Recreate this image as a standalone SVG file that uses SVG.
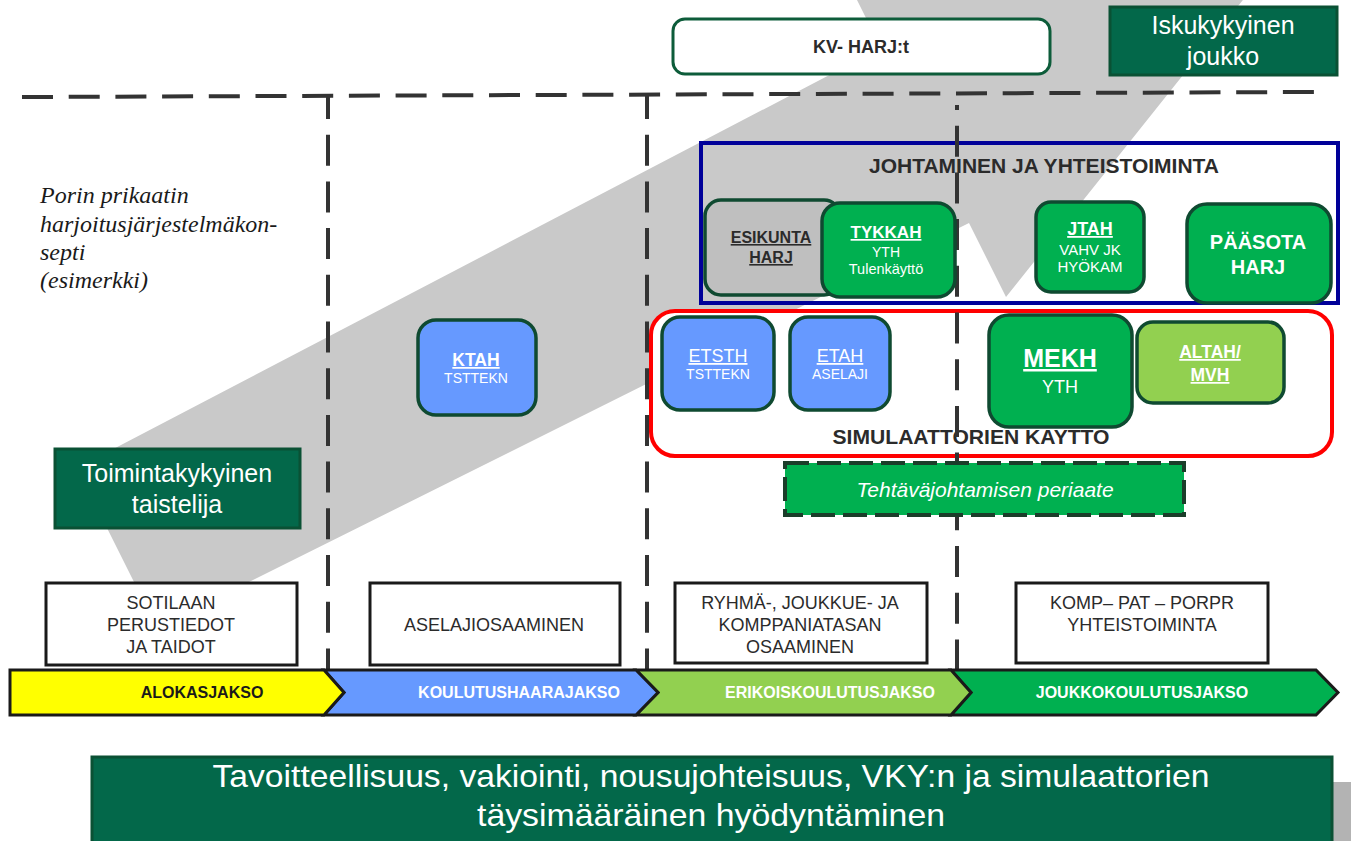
<svg xmlns="http://www.w3.org/2000/svg" width="1351" height="841" viewBox="0 0 1351 841">
<defs>
<style>
.t{font-family:"Liberation Sans",Arial,sans-serif}
.b{font-weight:bold}
.u{text-decoration:underline}
.w{fill:#ffffff}
.k{fill:#2b2b2b}
.nd{stroke:#0f4a31;stroke-width:3.5}
.grn{fill:#00b050}
.blu{fill:#6699ff}
.lgr{fill:#92d050}
.dk{fill:#03684a;stroke:#0a5134;stroke-width:3}
.wb{fill:#ffffff;stroke:#1a1a1a;stroke-width:3}
.dash{stroke:#333333;stroke-width:4;fill:none;stroke-dasharray:31 15.7}
.bar{stroke:#1a1a1a;stroke-width:3;stroke-linejoin:miter}
.ser{font-family:"Liberation Serif","Times New Roman",serif;font-style:italic;font-size:24px;fill:#1a1a1a}
</style>
</defs>
<rect x="0" y="0" width="1351" height="841" fill="#ffffff"/>
<g id="band">
<polygon points="77,468 881,48 844,-26 1274,-39 1006,297 969,223 157,628" fill="#c9c9c9"/>
<rect x="1332" y="782" width="19" height="59" fill="#b3b3b3"/>
</g>
<text class="ser" x="40" y="203">Porin prikaatin</text>
<text class="ser" x="40" y="232">harjoitusjärjestelmäkon-</text>
<text class="ser" x="40" y="260">septi</text>
<text class="ser" x="40" y="288">(esimerkki)</text>
<g id="kv">
<rect x="673" y="19" width="377" height="55" rx="12" fill="#ffffff" stroke="#0d5c3a" stroke-width="3"/>
<text class="t b k" x="861" y="53" font-size="18" text-anchor="middle">KV- HARJ:t</text>
</g>
<g id="iskukykyinen">
<rect class="dk" x="1110" y="7" width="227" height="68"/>
<text class="t w" x="1223" y="34" font-size="25" text-anchor="middle">Iskukykyinen</text>
<text class="t w" x="1223" y="65" font-size="25" text-anchor="middle">joukko</text>
</g>
<g id="johtaminen">
<rect x="701" y="143" width="637" height="160" fill="none" stroke="#000099" stroke-width="4"/>
<text class="t b k" x="1044" y="173" font-size="21" text-anchor="middle">JOHTAMINEN JA YHTEISTOIMINTA</text>
</g>
<g id="simulaattorit">
<rect x="651" y="311" width="681" height="145" rx="24" fill="#ffffff" stroke="#ff0000" stroke-width="4"/>
<text class="t b k" x="971" y="444" font-size="20" text-anchor="middle" textLength="277" lengthAdjust="spacingAndGlyphs">SIMULAATTORIEN KAYTTO</text>
</g>
<g id="connectors">
<line class="dash" x1="22" y1="97" x2="1315" y2="92"/>
<line class="dash" x1="328" y1="95" x2="328" y2="670" stroke-dashoffset="7"/>
<line class="dash" x1="647" y1="95" x2="647" y2="670" stroke-dashoffset="7"/>
<line class="dash" x1="957" y1="105" x2="957" y2="670" stroke-dashoffset="26"/>
</g>
<g id="toimintakykyinen">
<rect class="dk" x="55" y="449" width="245" height="79"/>
<text class="t w" x="177" y="482" font-size="25" text-anchor="middle">Toimintakykyinen</text>
<text class="t w" x="177" y="513" font-size="25" text-anchor="middle">taistelija</text>
</g>
<g id="esikunta">
<rect class="nd" x="705" y="200" width="135" height="95" rx="16" fill="#bfbfbf"/>
<text class="t b u k" x="771" y="243" font-size="16" text-anchor="middle">ESIKUNTA</text>
<text class="t b u k" x="771" y="263" font-size="16" text-anchor="middle">HARJ</text>
</g>
<g id="tykkah">
<rect class="nd grn" x="822" y="203" width="133" height="94" rx="18"/>
<text class="t b u w" x="886" y="238" font-size="17" text-anchor="middle">TYKKAH</text>
<text class="t w" x="886" y="257" font-size="14" text-anchor="middle">YTH</text>
<text class="t w" x="886" y="274" font-size="14.5" text-anchor="middle">Tulenkäyttö</text>
</g>
<g id="jtah">
<rect class="nd grn" x="1036" y="202" width="108" height="90" rx="15"/>
<text class="t b u w" x="1090" y="235" font-size="18" text-anchor="middle">JTAH</text>
<text class="t w" x="1090" y="255" font-size="15" text-anchor="middle">VAHV JK</text>
<text class="t w" x="1090" y="272" font-size="15" text-anchor="middle">HYÖKAM</text>
</g>
<g id="paasota">
<rect class="nd grn" x="1187" y="204" width="144" height="99" rx="20"/>
<text class="t b w" x="1258" y="249" font-size="20" text-anchor="middle">PÄÄSOTA</text>
<text class="t b w" x="1258" y="274" font-size="20" text-anchor="middle">HARJ</text>
</g>
<g id="ktah">
<rect class="nd blu" x="418" y="320" width="118" height="95" rx="18"/>
<text class="t b u w" x="476" y="366" font-size="17.5" text-anchor="middle">KTAH</text>
<text class="t w" x="476" y="383" font-size="14" text-anchor="middle">TSTTEKN</text>
</g>
<g id="etsth">
<rect class="nd blu" x="662" y="317" width="112" height="93" rx="18"/>
<text class="t u w" x="718" y="362" font-size="18" text-anchor="middle">ETSTH</text>
<text class="t w" x="718" y="379" font-size="14" text-anchor="middle">TSTTEKN</text>
</g>
<g id="etah">
<rect class="nd blu" x="790" y="317" width="100" height="93" rx="18"/>
<text class="t u w" x="840" y="362" font-size="18" text-anchor="middle">ETAH</text>
<text class="t w" x="840" y="379" font-size="14" text-anchor="middle">ASELAJI</text>
</g>
<g id="mekh">
<rect class="nd grn" x="989" y="315" width="143" height="112" rx="20"/>
<text class="t b u w" x="1060" y="367" font-size="25" text-anchor="middle">MEKH</text>
<text class="t w" x="1060" y="393" font-size="18" text-anchor="middle">YTH</text>
</g>
<g id="altah">
<rect class="nd lgr" x="1137" y="322" width="147" height="81" rx="16"/>
<text class="t b u w" x="1210" y="358" font-size="17.5" text-anchor="middle">ALTAH/</text>
<text class="t b u w" x="1210" y="381" font-size="17.5" text-anchor="middle">MVH</text>
</g>
<g id="tehtavajohtaminen">
<rect x="785" y="463" width="399" height="52" fill="#00b050" stroke="#1b3d2a" stroke-width="4" stroke-dasharray="24 8"/>
<text class="t w" x="985" y="497" font-size="21" font-style="italic" text-anchor="middle">Tehtäväjohtamisen periaate</text>
</g>
<g id="sotilaan">
<rect class="wb" x="46" y="583" width="251" height="82"/>
<text class="t k" x="171" y="609" font-size="18" text-anchor="middle">SOTILAAN</text>
<text class="t k" x="171" y="631" font-size="18" text-anchor="middle">PERUSTIEDOT</text>
<text class="t k" x="171" y="653" font-size="18" text-anchor="middle">JA TAIDOT</text>
</g>
<g id="aselaji">
<rect class="wb" x="370" y="583" width="250" height="82"/>
<text class="t k" x="494" y="631" font-size="18" text-anchor="middle">ASELAJIOSAAMINEN</text>
</g>
<g id="ryhma">
<rect class="wb" x="675" y="583" width="252" height="80"/>
<text class="t k" x="800" y="609" font-size="18" text-anchor="middle">RYHMÄ-, JOUKKUE- JA</text>
<text class="t k" x="800" y="631" font-size="18" text-anchor="middle">KOMPPANIATASAN</text>
<text class="t k" x="800" y="653" font-size="18" text-anchor="middle">OSAAMINEN</text>
</g>
<g id="komp">
<rect class="wb" x="1016" y="583" width="252" height="80"/>
<text class="t k" x="1142" y="609" font-size="18" text-anchor="middle">KOMP– PAT – PORPR</text>
<text class="t k" x="1142" y="631" font-size="18" text-anchor="middle">YHTEISTOIMINTA</text>
</g>
<g id="jaksot">
<polygon class="bar" points="951,670 1316,670 1338,692.5 1316,715 951,715 971,692.5" fill="#00b050"/>
<polygon class="bar" points="636,670 951,670 971,692.5 951,715 636,715 658,692.5" fill="#92d050"/>
<polygon class="bar" points="324,670 636,670 658,692.5 636,715 324,715 344,692.5" fill="#6699ff"/>
<polygon class="bar" points="10,670 324,670 344,692.5 324,715 10,715" fill="#ffff00"/>
<text class="t b" x="202" y="698" font-size="16" fill="#1a1a1a" text-anchor="middle">ALOKASJAKSO</text>
<text class="t b w" x="519" y="698" font-size="16" text-anchor="middle">KOULUTUSHAARAJAKSO</text>
<text class="t b w" x="830" y="698" font-size="16" text-anchor="middle">ERIKOISKOULUTUSJAKSO</text>
<text class="t b w" x="1142" y="698" font-size="16" text-anchor="middle">JOUKKOKOULUTUSJAKSO</text>
</g>
<g id="tavoitteellisuus">
<rect class="dk" x="92" y="757" width="1240" height="90"/>
<text class="t w" x="711" y="787" font-size="32" text-anchor="middle" textLength="997" lengthAdjust="spacingAndGlyphs">Tavoitteellisuus, vakiointi, nousujohteisuus, VKY:n ja simulaattorien</text>
<text class="t w" x="711" y="826" font-size="32" text-anchor="middle" textLength="468" lengthAdjust="spacingAndGlyphs">täysimääräinen hyödyntäminen</text>
</g>
</svg>
